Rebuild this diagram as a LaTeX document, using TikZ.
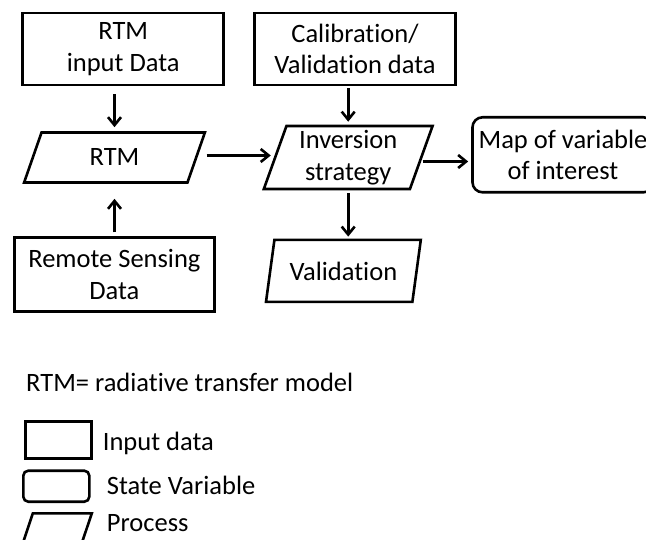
\documentclass[tikz,border=0pt]{standalone}
\usepackage{fontspec}
\setmainfont[Ligatures=NoCommon]{Carlito}
\usetikzlibrary{shapes.geometric,arrows.meta}
\begin{document}
\begin{tikzpicture}[x=1pt,y=-1pt,
    font=\fontsize{26.5}{31.7}\selectfont,
    databox/.style={draw, line width=2.6pt, rectangle, align=center, inner sep=1pt},
    statebox/.style={databox, rounded corners=10pt},
    procbox/.style={draw, line width=2.6pt, trapezium, trapezium left angle=72, trapezium right angle=108, trapezium stretches=true, align=center, inner sep=1pt},
    conn/.style={line width=2.6pt, -{Straight Barb[length=8pt,width=13pt]}},
    keytext/.style={anchor=west, inner sep=0pt}]
    \useasboundingbox (0,0) rectangle (646,540);
    \node[databox, minimum width=201pt, minimum height=72pt] (rtmin) at (123.2,48.9) {RTM\\input Data};
    \node[databox, minimum width=201pt, minimum height=72pt] (calib) at (355,48.9) {Calibration/\\Validation data};
    \node[databox, minimum width=200pt, minimum height=74pt] (rs) at (114.4,274.7) {Remote Sensing\\Data};
    \node[procbox, minimum width=181pt, minimum height=50pt] (rtm) at (114.5,157.5) {RTM};
    \node[procbox, minimum width=169pt, minimum height=63pt] (inv) at (348.2,157.5) {Inversion\\strategy};
    \node[procbox, minimum width=155pt, minimum height=62pt] (val) at (343.4,270.9) {Validation};
    \node[statebox, minimum width=181pt, minimum height=75pt] (map) at (563,154.8) {Map of variable\\of interest};
    \draw[conn, shorten <=8pt, shorten >=4pt] (rtmin.south -| rtm.north) -- (rtm.north);
    \draw[conn, shorten <=4pt, shorten >=15pt] (rs.north -| rtm.south) -- (rtm.south);
    \draw[conn, shorten <=2pt, shorten >=3pt] (calib.south -| inv.north) -- (inv.north);
    \draw[conn, shorten <=3pt, shorten >=2pt] (inv.south) -- (inv.south |- val.north);
    \draw[conn, shorten <=9pt, shorten >=3pt] ([yshift=2pt]rtm.east) -- ([yshift=2pt]rtm.east -| inv.west);
    \draw[conn, shorten >=3pt] ([yshift=-4pt]inv.east) -- ([yshift=-4pt]inv.east -| map.west);
    \node[keytext] (abbr) at (26,382.7) {RTM= radiative transfer model};
    \node[databox, minimum width=66pt, minimum height=36.6pt] (keyin) at (58.7,440) {};
    \node[statebox, rounded corners=5pt, minimum width=66pt, minimum height=31pt] (keystate) at (56.3,486.2) {};
    \node[procbox, trapezium left angle=77, trapezium right angle=103, minimum width=70pt, minimum height=33pt] (keyproc) at (56.8,529.8) {};
    \node[keytext] (keyintext) at (102.7,443) {Input data};
    \node[keytext] (keystatetext) at (106.7,485) {State Variable};
    \node[keytext] (keyproctext) at (106.7,523.3) {Process};
\end{tikzpicture}
\end{document}
